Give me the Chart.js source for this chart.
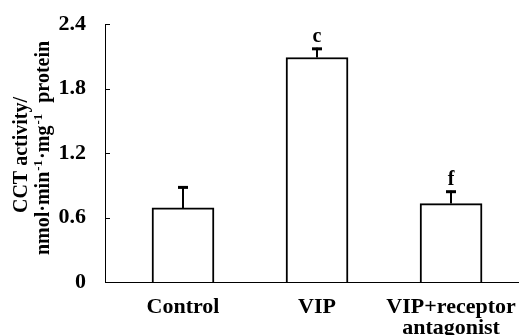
<!DOCTYPE html>
<html>
<head>
<meta charset="utf-8">
<script src="https://cdn.jsdelivr.net/npm/chart.js@4"></script>
<style>
  html, body { margin: 0; padding: 0; background: #fff; }
  #wrap { position: relative; width: 519px; height: 335px; }
</style>
</head>
<body>
<div id="wrap"><canvas id="chart"></canvas></div>
<script>
// Bar chart of CCT activity with upward error bars and significance letters.

const FONT = "'Liberation Serif', 'Times New Roman', serif";

const groups = ['Control', 'VIP', 'VIP+receptor antagonist'];
const groupLabels = [['Control'], ['VIP'], ['VIP+receptor', 'antagonist']];
const positions = [1, 2, 3];
const means = [0.69, 2.09, 0.73];
const errors = [0.20, 0.09, 0.12];
const marks = ['', 'c', 'f'];
const yTicks = [0, 0.6, 1.2, 1.8, 2.4];

// --- Plugins ----------------------------------------------------------------

const innerTicks = {
  id: 'innerTicks',
  afterDraw(chart) {
    const { ctx, scales: { y } } = chart;
    ctx.save();
    ctx.strokeStyle = '#000';
    ctx.lineWidth = 1;
    for (const v of yTicks) {
      if (v === 0) continue;
      const py = Math.round(y.getPixelForValue(v)) + 0.5;
      ctx.beginPath();
      ctx.moveTo(y.right, py);
      ctx.lineTo(y.right + 5, py);
      ctx.stroke();
    }
    ctx.restore();
  }
};

const errorBars = {
  id: 'errorBars',
  afterDatasetsDraw(chart) {
    const { ctx, scales: { x, y } } = chart;
    ctx.save();
    ctx.strokeStyle = '#000';
    ctx.fillStyle = '#000';
    positions.forEach((p, i) => {
      const px = Math.round(x.getPixelForValue(p));
      const top = y.getPixelForValue(means[i]);
      const hi = y.getPixelForValue(means[i] + errors[i]);
      ctx.lineWidth = 2;
      ctx.beginPath();
      ctx.moveTo(px, top);
      ctx.lineTo(px, hi);
      ctx.stroke();
      ctx.lineWidth = 3;
      ctx.beginPath();
      ctx.moveTo(px - 5, hi + 1);
      ctx.lineTo(px + 5, hi + 1);
      ctx.stroke();
      if (marks[i]) {
        ctx.font = 'bold 20px ' + FONT;
        ctx.textAlign = 'center';
        ctx.textBaseline = 'alphabetic';
        ctx.fillText(marks[i], px, hi - 6);
      }
    });
    ctx.restore();
  }
};

// y title drawn by hand so the -1 exponents can be superscripts
const yTitle = {
  id: 'yTitle',
  afterDraw(chart) {
    const { ctx } = chart;
    const lines = [
      { x: 22, cy: 155, parts: [['CCT activity/', false]] },
      { x: 44, cy: 148, parts: [['nmol·min', false], ['-1', true], ['·mg', false], ['-1', true], ['  protein', false]] },
    ];
    const big = 'bold 20px ' + FONT;
    const small = 'bold 13px ' + FONT;
    ctx.save();
    ctx.fillStyle = '#000';
    ctx.textBaseline = 'middle';
    ctx.textAlign = 'left';
    for (const line of lines) {
      let w = 0;
      for (const [t, sup] of line.parts) {
        ctx.font = sup ? small : big;
        w += ctx.measureText(t).width + (sup ? 2 : 0);
      }
      ctx.save();
      ctx.translate(line.x, line.cy);
      ctx.rotate(-Math.PI / 2);
      let cx = -w / 2;
      for (const [t, sup] of line.parts) {
        ctx.font = sup ? small : big;
        ctx.fillText(t, cx + (sup ? 1 : 0), sup ? -5 : 0);
        cx += ctx.measureText(t).width + (sup ? 2 : 0);
      }
      ctx.restore();
    }
    ctx.restore();
  }
};

// --- Chart ------------------------------------------------------------------

new Chart(document.getElementById('chart'), {
  type: 'bar',
  data: {
    datasets: [{
      label: 'CCT activity',
      data: positions.map((p, i) => ({ x: p, y: means[i] })),
      backgroundColor: '#fff',
      borderColor: '#000',
      borderWidth: 2,
      barThickness: 62,
    }],
  },
  options: {
    responsive: true,
    maintainAspectRatio: false,
    animation: false,
    layout: { padding: { left: 0, right: 0, top: 19, bottom: 0 } },
    plugins: { legend: { display: false }, tooltip: { enabled: false } },
    scales: {
      x: {
        type: 'linear',
        offset: false,
        min: 0.418,
        max: 3.507,
        afterBuildTicks: s => { s.ticks = positions.map(v => ({ value: v })); },
        afterFit: s => { s.height = 53; s.paddingRight = 0; s.paddingLeft = 0; },
        grid: { display: false, offset: false },
        border: { display: true, color: '#000', width: 1 },
        ticks: {
          color: '#000',
          padding: 7,
          maxRotation: 0,
          autoSkip: false,
          font: { family: FONT, size: 22, weight: 'bold', lineHeight: 0.95 },
          callback: v => groupLabels[positions.indexOf(v)] || '',
        },
      },
      y: {
        min: 0,
        max: 2.4,
        afterBuildTicks: s => { s.ticks = yTicks.map(v => ({ value: v })); },
        afterFit: s => { s.width = 105; },
        grid: { display: false },
        border: { display: true, color: '#000', width: 1 },
        ticks: {
          color: '#000',
          padding: 11,
          font: { family: FONT, size: 22, weight: 'bold' },
          callback: v => String(v),
        },
      },
    },
  },
  plugins: [innerTicks, errorBars, yTitle],
});
</script>
</body>
</html>
